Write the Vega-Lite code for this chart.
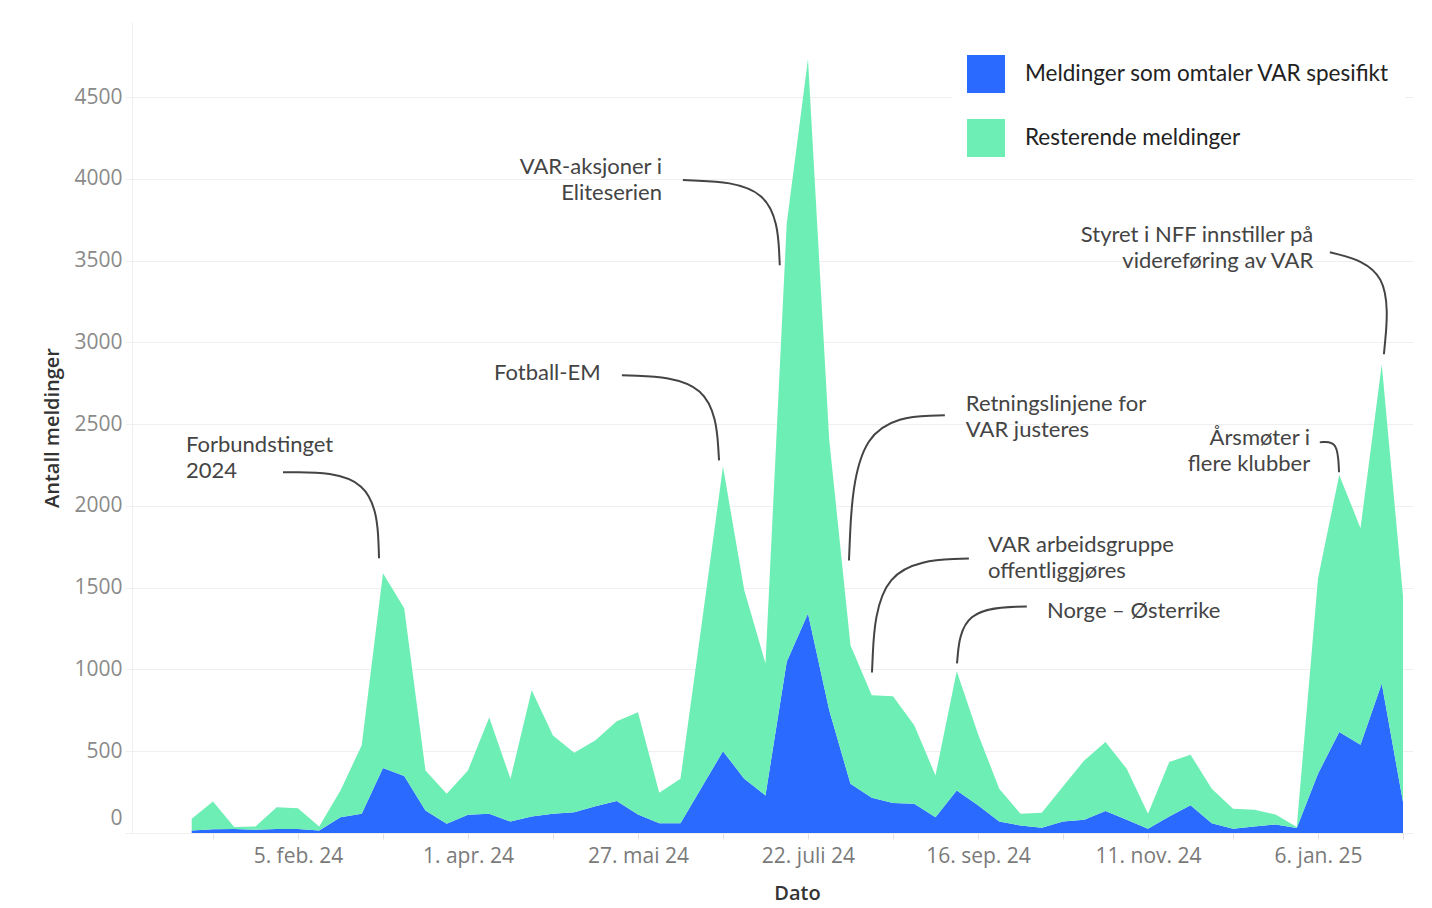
{
  "$schema": "https://vega.github.io/schema/vega-lite/v6.json",
  "width": 1281,
  "height": 811,
  "autosize": {"type": "none"},
  "padding": {"left": 132, "top": 22, "right": 19, "bottom": 75},
  "background": "white",
  "config": {"view": {"stroke": null}, "font": "Lato"},
  "datasets": {
    "meldinger": [
      {"dato": "2024-01-01", "Meldinger som omtaler VAR spesifikt": 15, "Resterende meldinger": 72},
      {"dato": "2024-01-08", "Meldinger som omtaler VAR spesifikt": 23, "Resterende meldinger": 170},
      {"dato": "2024-01-15", "Meldinger som omtaler VAR spesifikt": 25, "Resterende meldinger": 11},
      {"dato": "2024-01-22", "Meldinger som omtaler VAR spesifikt": 20, "Resterende meldinger": 20},
      {"dato": "2024-01-29", "Meldinger som omtaler VAR spesifikt": 25, "Resterende meldinger": 133},
      {"dato": "2024-02-05", "Meldinger som omtaler VAR spesifikt": 24, "Resterende meldinger": 128},
      {"dato": "2024-02-12", "Meldinger som omtaler VAR spesifikt": 15, "Resterende meldinger": 25},
      {"dato": "2024-02-19", "Meldinger som omtaler VAR spesifikt": 97, "Resterende meldinger": 163},
      {"dato": "2024-02-26", "Meldinger som omtaler VAR spesifikt": 118, "Resterende meldinger": 418},
      {"dato": "2024-03-04", "Meldinger som omtaler VAR spesifikt": 397, "Resterende meldinger": 1191},
      {"dato": "2024-03-11", "Meldinger som omtaler VAR spesifikt": 348, "Resterende meldinger": 1026},
      {"dato": "2024-03-18", "Meldinger som omtaler VAR spesifikt": 138, "Resterende meldinger": 245},
      {"dato": "2024-03-25", "Meldinger som omtaler VAR spesifikt": 56, "Resterende meldinger": 184},
      {"dato": "2024-04-01", "Meldinger som omtaler VAR spesifikt": 111, "Resterende meldinger": 272},
      {"dato": "2024-04-08", "Meldinger som omtaler VAR spesifikt": 118, "Resterende meldinger": 588},
      {"dato": "2024-04-15", "Meldinger som omtaler VAR spesifikt": 70, "Resterende meldinger": 262},
      {"dato": "2024-04-22", "Meldinger som omtaler VAR spesifikt": 101, "Resterende meldinger": 772},
      {"dato": "2024-04-29", "Meldinger som omtaler VAR spesifikt": 118, "Resterende meldinger": 479},
      {"dato": "2024-05-06", "Meldinger som omtaler VAR spesifikt": 127, "Resterende meldinger": 364},
      {"dato": "2024-05-13", "Meldinger som omtaler VAR spesifikt": 164, "Resterende meldinger": 403},
      {"dato": "2024-05-20", "Meldinger som omtaler VAR spesifikt": 195, "Resterende meldinger": 488},
      {"dato": "2024-05-27", "Meldinger som omtaler VAR spesifikt": 113, "Resterende meldinger": 625},
      {"dato": "2024-06-03", "Meldinger som omtaler VAR spesifikt": 60, "Resterende meldinger": 186},
      {"dato": "2024-06-10", "Meldinger som omtaler VAR spesifikt": 60, "Resterende meldinger": 272},
      {"dato": "2024-06-17", "Meldinger som omtaler VAR spesifikt": 280, "Resterende meldinger": 1000},
      {"dato": "2024-06-24", "Meldinger som omtaler VAR spesifikt": 500, "Resterende meldinger": 1741},
      {"dato": "2024-07-01", "Meldinger som omtaler VAR spesifikt": 332, "Resterende meldinger": 1154},
      {"dato": "2024-07-08", "Meldinger som omtaler VAR spesifikt": 230, "Resterende meldinger": 807},
      {"dato": "2024-07-15", "Meldinger som omtaler VAR spesifikt": 1047, "Resterende meldinger": 2680},
      {"dato": "2024-07-22", "Meldinger som omtaler VAR spesifikt": 1343, "Resterende meldinger": 3390},
      {"dato": "2024-07-29", "Meldinger som omtaler VAR spesifikt": 750, "Resterende meldinger": 1655},
      {"dato": "2024-08-05", "Meldinger som omtaler VAR spesifikt": 301, "Resterende meldinger": 848},
      {"dato": "2024-08-12", "Meldinger som omtaler VAR spesifikt": 216, "Resterende meldinger": 627},
      {"dato": "2024-08-19", "Meldinger som omtaler VAR spesifikt": 183, "Resterende meldinger": 653},
      {"dato": "2024-08-26", "Meldinger som omtaler VAR spesifikt": 179, "Resterende meldinger": 480},
      {"dato": "2024-09-02", "Meldinger som omtaler VAR spesifikt": 97, "Resterende meldinger": 255},
      {"dato": "2024-09-09", "Meldinger som omtaler VAR spesifikt": 260, "Resterende meldinger": 730},
      {"dato": "2024-09-16", "Meldinger som omtaler VAR spesifikt": 169, "Resterende meldinger": 436},
      {"dato": "2024-09-23", "Meldinger som omtaler VAR spesifikt": 70, "Resterende meldinger": 201},
      {"dato": "2024-09-30", "Meldinger som omtaler VAR spesifikt": 46, "Resterende meldinger": 72},
      {"dato": "2024-10-07", "Meldinger som omtaler VAR spesifikt": 32, "Resterende meldinger": 92},
      {"dato": "2024-10-14", "Meldinger som omtaler VAR spesifikt": 70, "Resterende meldinger": 215},
      {"dato": "2024-10-21", "Meldinger som omtaler VAR spesifikt": 81, "Resterende meldinger": 363},
      {"dato": "2024-10-28", "Meldinger som omtaler VAR spesifikt": 134, "Resterende meldinger": 423},
      {"dato": "2024-11-04", "Meldinger som omtaler VAR spesifikt": 81, "Resterende meldinger": 312},
      {"dato": "2024-11-11", "Meldinger som omtaler VAR spesifikt": 26, "Resterende meldinger": 92},
      {"dato": "2024-11-18", "Meldinger som omtaler VAR spesifikt": 101, "Resterende meldinger": 333},
      {"dato": "2024-11-25", "Meldinger som omtaler VAR spesifikt": 169, "Resterende meldinger": 310},
      {"dato": "2024-12-02", "Meldinger som omtaler VAR spesifikt": 60, "Resterende meldinger": 211},
      {"dato": "2024-12-09", "Meldinger som omtaler VAR spesifikt": 26, "Resterende meldinger": 122},
      {"dato": "2024-12-16", "Meldinger som omtaler VAR spesifikt": 40, "Resterende meldinger": 102},
      {"dato": "2024-12-23", "Meldinger som omtaler VAR spesifikt": 52, "Resterende meldinger": 61},
      {"dato": "2024-12-30", "Meldinger som omtaler VAR spesifikt": 30, "Resterende meldinger": 6},
      {"dato": "2025-01-06", "Meldinger som omtaler VAR spesifikt": 363, "Resterende meldinger": 1194},
      {"dato": "2025-01-13", "Meldinger som omtaler VAR spesifikt": 618, "Resterende meldinger": 1572},
      {"dato": "2025-01-20", "Meldinger som omtaler VAR spesifikt": 540, "Resterende meldinger": 1324},
      {"dato": "2025-01-27", "Meldinger som omtaler VAR spesifikt": 914, "Resterende meldinger": 1951},
      {"dato": "2025-02-03", "Meldinger som omtaler VAR spesifikt": 189, "Resterende meldinger": 1261}
    ],
    "tekst_venstre": [
      {"tekst": "Forbundstinget\n2024", "dato": "2023-12-30T03:00:00Z", "antall": 2328},
      {"tekst": "Fotball-EM", "dato": "2024-04-09T14:00:00Z", "antall": 2769},
      {"tekst": "Retningslinjene for\nVAR justeres", "dato": "2024-09-12T00:00:00Z", "antall": 2582},
      {"tekst": "VAR arbeidsgruppe\noffentliggjøres", "dato": "2024-09-19T07:00:00Z", "antall": 1719},
      {"tekst": "Norge – Østerrike", "dato": "2024-10-08T17:00:00Z", "antall": 1315}
    ],
    "tekst_hoyre": [
      {"tekst": "VAR-aksjoner i\nEliteserien", "dato": "2024-06-03T22:00:00Z", "antall": 4032},
      {"tekst": "Styret i NFF innstiller på\nvidereføring av VAR", "dato": "2025-01-04T10:00:00Z", "antall": 3616},
      {"tekst": "Årsmøter i\nflere klubber", "dato": "2025-01-03T10:00:00Z", "antall": 2374}
    ],
    "linjer": [
      {"id": 1, "punkt": 1, "dato": "2024-01-31T02:00:00Z", "antall": 2206},
      {"id": 1, "punkt": 2, "dato": "2024-03-01T17:00:00Z", "antall": 2206},
      {"id": 1, "punkt": 3, "dato": "2024-03-02T17:00:00Z", "antall": 1680},
      {"id": 2, "punkt": 1, "dato": "2024-05-21T17:00:00Z", "antall": 2800},
      {"id": 2, "punkt": 2, "dato": "2024-06-21T00:00:00Z", "antall": 2781},
      {"id": 2, "punkt": 3, "dato": "2024-06-22T17:00:00Z", "antall": 2279},
      {"id": 3, "punkt": 1, "dato": "2024-06-10T19:00:00Z", "antall": 3993},
      {"id": 3, "punkt": 2, "dato": "2024-07-11T10:00:00Z", "antall": 3974},
      {"id": 3, "punkt": 3, "dato": "2024-07-12T17:00:00Z", "antall": 3472},
      {"id": 4, "punkt": 1, "dato": "2024-09-05T02:00:00Z", "antall": 2555},
      {"id": 4, "punkt": 2, "dato": "2024-08-06T12:00:00Z", "antall": 2536},
      {"id": 4, "punkt": 3, "dato": "2024-08-04T12:00:00Z", "antall": 1667},
      {"id": 5, "punkt": 1, "dato": "2024-09-13T00:00:00Z", "antall": 1679},
      {"id": 5, "punkt": 2, "dato": "2024-08-13T17:00:00Z", "antall": 1655},
      {"id": 5, "punkt": 3, "dato": "2024-08-12T02:00:00Z", "antall": 982},
      {"id": 6, "punkt": 1, "dato": "2024-10-02T02:00:00Z", "antall": 1386},
      {"id": 6, "punkt": 2, "dato": "2024-09-10T17:00:00Z", "antall": 1373},
      {"id": 6, "punkt": 3, "dato": "2024-09-09T02:00:00Z", "antall": 1037},
      {"id": 7, "punkt": 1, "dato": "2025-01-09T22:00:00Z", "antall": 3552},
      {"id": 7, "punkt": 2, "dato": "2025-01-30T10:00:00Z", "antall": 3454},
      {"id": 7, "punkt": 3, "dato": "2025-01-27T17:00:00Z", "antall": 2928},
      {"id": 8, "punkt": 1, "dato": "2025-01-06T14:00:00Z", "antall": 2389},
      {"id": 8, "punkt": 2, "dato": "2025-01-12T12:00:00Z", "antall": 2401},
      {"id": 8, "punkt": 3, "dato": "2025-01-12T22:00:00Z", "antall": 2206}
    ]
  },
  "encoding": {
    "x": {
      "field": "dato",
      "type": "temporal",
      "scale": {"type": "utc", "domain": [1702368000000, 1738825200000]},
      "axis": {
        "title": "Dato",
        "values": [1704672000000, 1707091200000, 1709510400000, 1711929600000, 1714348800000, 1716768000000, 1719187200000, 1721606400000, 1724025600000, 1726444800000, 1728864000000, 1731283200000, 1733702400000, 1736121600000, 1738540800000],
        "labelExpr": "(datum.value - 1707091200000) % 4838400000 == 0 ? utcFormat(datum.value, '%-d') + '. ' + ['jan.','feb.','mars','apr.','mai','juni','juli','aug.','sep.','okt.','nov.','des.'][utcmonth(datum.value)] + ' ' + utcFormat(datum.value, '%y') : ''",
        "grid": false,
        "domain": false,
        "ticks": true,
        "tickColor": "#e2e2e2",
        "tickSize": 6,
        "labelFont": "Open Sans",
        "labelFontSize": 21,
        "labelColor": "#7a7a7a",
        "labelPadding": 6,
        "labelOverlap": false,
        "titleFont": "Open Sans",
        "titleFontSize": 20,
        "titleFontWeight": 600,
        "titleColor": "#333333",
        "titlePadding": 17,
        "titleX": 665
      }
    },
    "y": {
      "field": "antall",
      "type": "quantitative",
      "scale": {"domain": [0, 4960], "nice": false},
      "axis": {
        "title": "Antall meldinger",
        "values": [0, 500, 1000, 1500, 2000, 2500, 3000, 3500, 4000, 4500],
        "format": "d",
        "grid": true,
        "gridColor": "#efefef",
        "domain": true,
        "domainColor": "#efefef",
        "tickColor": "#efefef",
        "tickSize": 7,
        "labelFont": "Open Sans",
        "labelFontSize": 21,
        "labelColor": "#8a8a8a",
        "labelPadding": 3,
        "labelFlush": true,
        "labelFlushOffset": -5,
        "titleFont": "Open Sans",
        "titleFontSize": 20,
        "titleFontWeight": 600,
        "titleColor": "#333333",
        "titlePadding": 11
      }
    }
  },
  "layer": [
    {
      "data": {"name": "meldinger"},
      "transform": [
        {"fold": ["Meldinger som omtaler VAR spesifikt", "Resterende meldinger"], "as": ["serie", "antall"]}
      ],
      "mark": {"type": "area", "opacity": 1},
      "encoding": {
        "y": {"field": "antall", "type": "quantitative", "stack": "zero"},
        "order": {"field": "serie", "type": "nominal", "sort": "ascending"},
        "color": {
          "field": "serie",
          "type": "nominal",
          "scale": {"domain": ["Meldinger som omtaler VAR spesifikt", "Resterende meldinger"], "range": ["#2a6aff", "#6deeb4"]},
          "legend": {
            "title": null,
            "orient": "none",
            "legendX": 820,
            "legendY": 18,
            "fillColor": "white",
            "padding": 15,
            "symbolType": "square",
            "symbolSize": 1444,
            "symbolStrokeWidth": 0,
            "symbolOpacity": 1,
            "labelFont": "Lato",
            "labelFontSize": 22.5,
            "labelColor": "#222222",
            "labelOffset": 20,
            "rowPadding": 26,
            "labelLimit": 600
          }
        }
      }
    },
    {
      "data": {"name": "linjer"},
      "mark": {"type": "line", "interpolate": "basis", "color": "#444444", "strokeWidth": 2},
      "encoding": {
        "detail": {"field": "id", "type": "nominal"},
        "order": {"field": "punkt", "type": "quantitative"}
      }
    },
    {
      "data": {"name": "tekst_venstre"},
      "mark": {"type": "text", "align": "left", "baseline": "alphabetic", "lineBreak": "\n", "lineHeight": 26, "font": "Lato", "fontSize": 22, "color": "#444444"},
      "encoding": {"text": {"field": "tekst", "type": "nominal"}}
    },
    {
      "data": {"name": "tekst_hoyre"},
      "mark": {"type": "text", "align": "right", "baseline": "alphabetic", "lineBreak": "\n", "lineHeight": 26, "font": "Lato", "fontSize": 22, "color": "#444444"},
      "encoding": {"text": {"field": "tekst", "type": "nominal"}}
    }
  ]
}
